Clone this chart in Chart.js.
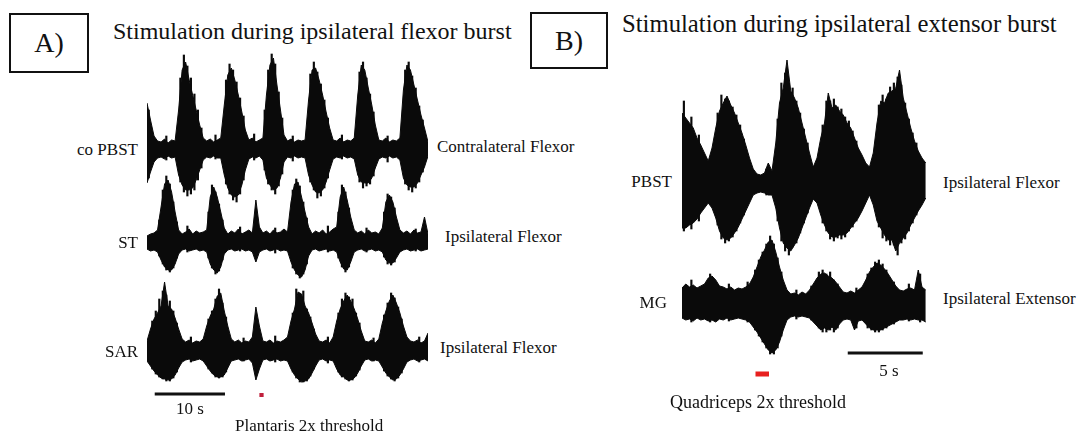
<!DOCTYPE html>
<html>
<head>
<meta charset="utf-8">
<title>EMG stimulation traces</title>
<script src="https://cdn.jsdelivr.net/npm/chart.js@4.4.0/dist/chart.umd.min.js"></script>
<style>
body { margin: 0; background: #fff; }
#fig { position: relative; width: 1087px; height: 434px; overflow: hidden; background: #fff;
       font-family: "Liberation Serif", "Times New Roman", serif; color: #111; }
#fig canvas { position: absolute; }
.t { position: absolute; white-space: nowrap; line-height: 1; font-size: 17px; }
.r { transform: translateX(-100%); }
.c { transform: translateX(-50%); }
.box { position: absolute; border: 2px solid #111; box-sizing: border-box; display: flex;
       align-items: center; justify-content: center; font-size: 28px; }
</style>
</head>
<body>
<div id="fig">
  <div class="box" style="left:9px;top:13px;width:80px;height:60px">A)</div>
  <div class="box" style="left:530px;top:12px;width:78px;height:57px">B)</div>
  <div class="t" style="left:113px;top:19px;font-size:24px">Stimulation during ipsilateral flexor burst</div>
  <div class="t" style="left:622px;top:12px;font-size:24.7px">Stimulation during ipsilateral extensor burst</div>

  <canvas id="coPbst" width="281" height="160" style="left:147px;top:50px"></canvas>
  <canvas id="st" width="281" height="120" style="left:147px;top:170px"></canvas>
  <canvas id="sar" width="281" height="140" style="left:147px;top:270px"></canvas>
  <canvas id="pbst" width="246" height="210" style="left:682px;top:55px"></canvas>
  <canvas id="mg" width="246" height="155" style="left:682px;top:230px"></canvas>

  <div class="t r" style="left:138px;top:141px">co PBST</div>
  <div class="t r" style="left:138px;top:234px">ST</div>
  <div class="t r" style="left:138px;top:343px">SAR</div>
  <div class="t" style="left:437px;top:138px">Contralateral Flexor</div>
  <div class="t" style="left:445px;top:228px">Ipsilateral Flexor</div>
  <div class="t" style="left:440px;top:339px">Ipsilateral Flexor</div>
  <div class="t c" style="left:190px;top:400px">10 s</div>
  <div class="t" style="left:235px;top:417px">Plantaris 2x threshold</div>

  <div class="t r" style="left:672px;top:173px">PBST</div>
  <div class="t r" style="left:667px;top:294px">MG</div>
  <div class="t" style="left:943px;top:174px">Ipsilateral Flexor</div>
  <div class="t" style="left:943px;top:290px">Ipsilateral Extensor</div>
  <div class="t c" style="left:889px;top:362px">5 s</div>
  <div class="t" style="left:670px;top:393px;font-size:18px">Quadriceps 2x threshold</div>
</div>

<script>
// A: EMG envelopes (upper / lower edge), sampled every 0.5 s over 40 s
var stepA = 0.5;
var coPbstUp = [47,30,14,9,8,11,7,10,9,40,80,88,70,55,40,25,12,9,11,8,10,12,45,75,82,70,55,38,20,10,
                12,8,10,12,55,85,92,65,40,15,9,11,8,10,9,10,50,80,82,70,55,38,22,10,9,12,8,10,9,12,
                55,85,80,62,45,25,10,9,12,8,10,9,12,60,85,80,65,50,35,22,8];
var coPbstLo = [-33,-22,-12,-8,-7,-9,-6,-8,-7,-25,-35,-40,-40,-38,-30,-20,-10,-7,-8,-6,-8,-8,-25,-38,-45,-47,-45,-35,-20,-9,
                -7,-8,-6,-10,-28,-35,-40,-38,-28,-12,-7,-8,-6,-8,-7,-8,-25,-35,-42,-43,-40,-32,-20,-9,-7,-8,-6,-8,-7,-9,
                -25,-32,-33,-33,-28,-18,-9,-7,-8,-6,-8,-7,-10,-28,-35,-37,-37,-33,-25,-17,-6];
var stUp = [6,8,9,12,35,58,62,50,30,12,8,10,13,8,11,9,10,12,45,55,45,30,14,8,11,9,13,8,10,12,
            9,42,15,9,11,8,12,9,10,13,10,40,58,60,45,30,15,8,11,9,12,8,10,13,15,45,55,42,25,12,
            9,11,8,12,9,10,8,14,40,47,40,25,12,9,11,8,12,9,10,25,8];
var stLo = [-7,-9,-8,-10,-18,-25,-28,-28,-22,-12,-8,-7,-9,-8,-7,-9,-8,-10,-22,-28,-31,-25,-12,-8,-7,-9,-8,-7,-9,-8,
            -10,-20,-10,-8,-7,-9,-8,-7,-9,-8,-9,-20,-28,-33,-35,-28,-14,-8,-7,-9,-8,-7,-9,-8,-10,-20,-27,-28,-20,-10,
            -8,-7,-9,-8,-7,-9,-8,-10,-18,-21,-21,-16,-10,-8,-7,-9,-8,-7,-9,-8,-7];
var sarUp = [10,22,32,38,45,69,45,42,33,22,12,9,11,8,10,9,12,25,35,42,55,58,40,25,12,9,11,8,10,9,
             14,44,25,10,9,11,8,10,9,11,14,30,42,59,57,45,38,28,17,10,9,11,8,14,30,42,50,56,50,42,
             32,20,10,9,11,8,12,28,40,50,56,48,38,25,14,10,9,11,8,10,18];
var sarLo = [-10,-15,-20,-24,-27,-28,-29,-28,-24,-17,-11,-9,-8,-10,-9,-8,-10,-15,-20,-24,-26,-26,-24,-17,-10,-9,-8,-10,-9,-8,
             -12,-29,-18,-9,-8,-10,-9,-8,-10,-9,-10,-18,-24,-28,-31,-30,-28,-22,-15,-9,-8,-10,-9,-10,-18,-24,-26,-29,-29,-27,
             -22,-15,-9,-8,-10,-9,-10,-16,-22,-26,-29,-28,-24,-18,-11,-9,-8,-10,-9,-8,-10];

// A: single spikes between envelope samples (time s, top, bottom)
var coPbstSpikeT  = [0.25,2.75,4.75,5.25,5.75,6.25,6.75,7.25,7.75,9.75,11.25,11.75,12.25,12.75,13.25,13.75,15.25,
                     16.75,17.25,17.75,18.25,18.75,19.25,20.75,23.25,23.75,24.25,24.75,25.25,25.75,27.75,
                     30.25,30.75,31.25,31.75,32.25,34.25,36.75,37.25,37.75,38.25,38.75,39.25];
var coPbstSpikeHi = [40,14,72,95,84,72,56,40,22,15,70,86,80,68,52,34,16,40,80,96,86,58,32,14,76,88,78,66,50,32,15,
                     78,88,72,56,38,14,80,88,74,62,44,30];
var coPbstSpikeLo = [-28,-10,-32,-42,-46,-44,-40,-30,-18,-9,-34,-44,-50,-52,-44,-30,-10,-20,-34,-40,-44,-36,-24,-11,
                     -32,-40,-48,-46,-38,-28,-9,-32,-38,-36,-34,-26,-12,-34,-40,-42,-38,-32,-22];
var stSpikeT  = [1.75,2.25,2.75,3.25,3.75,4.25,5.75,8.75,9.25,9.75,10.25,10.75,13.25,18.25,20.75,21.25,21.75,22.25,22.75,
                 25.75,27.25,27.75,28.25,28.75,31.25,33.75,34.25,34.75,35.25,38.25];
var stSpikeHi = [22,52,66,58,40,20,16,30,57,50,38,22,15,14,52,63,56,40,24,16,30,57,50,34,14,30,48,45,34,13];
var stSpikeLo = [-14,-22,-28,-30,-26,-16,-10,-16,-26,-32,-29,-18,-9,-11,-26,-32,-36,-32,-22,-10,-16,-25,-30,-25,-10,
                 -15,-22,-23,-20,-9];
var sarSpikeT  = [0.75,1.25,1.75,2.25,2.75,3.25,3.75,4.25,6.25,8.75,9.25,9.75,10.25,10.75,11.25,13.75,18.25,
                  20.75,21.25,21.75,22.25,22.75,23.25,23.75,25.75,27.25,27.75,28.25,28.75,29.25,29.75,30.25,32.25,
                  33.75,34.25,34.75,35.25,35.75,36.25,38.75];
var sarSpikeHi = [30,40,52,60,56,50,40,28,14,32,40,52,62,48,34,13,15,38,62,50,60,42,34,22,14,38,52,58,54,52,38,28,13,
                  36,48,58,53,44,32,14];
var sarSpikeLo = [-18,-23,-26,-28,-30,-30,-27,-21,-11,-18,-22,-26,-27,-26,-21,-10,-11,-21,-27,-31,-31,-30,-25,-18,-12,
                  -21,-26,-28,-30,-29,-25,-19,-10,-20,-25,-28,-30,-27,-22,-11];

// B: envelopes sampled every 0.25 s over ~16 s
var stepB = 0.25;
var pbstUp = [70,65,60,55,45,38,30,22,35,55,72,80,87,78,70,60,50,38,25,14,9,8,10,20,12,40,80,95,123,92,
              85,75,60,45,30,16,25,45,60,90,75,78,72,68,60,55,45,35,28,20,16,30,60,82,80,90,92,95,113,85,
              70,55,42,32,25,20];
var pbstLo = [-45,-45,-42,-40,-36,-30,-25,-20,-25,-35,-48,-55,-57,-55,-50,-44,-36,-28,-20,-12,-10,-9,-10,-12,-12,-25,-45,-60,-65,-68,
              -62,-55,-45,-35,-25,-16,-20,-32,-42,-50,-54,-54,-52,-52,-50,-45,-40,-35,-28,-20,-12,-22,-38,-45,-52,-57,-57,-68,-60,-55,
              -50,-42,-35,-28,-22,-15];
var mgUp = [14,18,15,17,14,16,18,24,26,22,16,15,13,15,12,14,13,15,18,25,35,45,52,60,62,50,35,22,12,8,
            9,7,10,8,12,18,24,28,29,26,24,20,15,10,9,11,9,12,15,22,30,35,39,37,33,28,22,16,12,11,
            13,14,12,32,15,12];
var mgLo = [-16,-18,-17,-19,-16,-18,-17,-19,-18,-20,-17,-18,-16,-18,-17,-16,-17,-18,-20,-25,-30,-36,-42,-48,-51,-48,-40,-28,-18,-15,
            -14,-15,-14,-15,-16,-20,-24,-28,-26,-28,-25,-28,-22,-18,-17,-18,-28,-19,-18,-22,-26,-28,-28,-28,-26,-24,-22,-20,-18,-18,
            -17,-18,-17,-18,-18,-20];

// B: single spikes
var pbstSpikeT  = [0.125,0.625,1.125,2.375,2.625,2.875,3.125,3.375,3.625,3.875,4.125,5.625,
                   6.375,6.625,6.875,7.125,7.375,7.625,7.875,8.125,8.375,
                   9.375,9.625,9.875,10.125,10.375,10.625,10.875,11.125,11.375,11.625,
                   13.125,13.375,13.625,13.875,14.125,14.375,14.625,14.875,15.125,15.375,15.625];
var pbstSpikeHi = [82,66,48,70,88,84,82,76,68,58,44,14,64,100,110,100,95,82,70,54,40,
                   58,82,82,84,76,74,66,62,52,42,78,88,84,96,100,106,98,80,64,50,40];
var pbstSpikeLo = [-48,-46,-38,-42,-56,-60,-58,-54,-48,-40,-32,-12,-38,-58,-68,-72,-64,-60,-50,-40,-30,
                   -40,-48,-56,-58,-55,-56,-54,-48,-44,-38,-44,-55,-58,-62,-62,-72,-60,-56,-48,-40,-32];
var mgSpikeT  = [0.625,1.875,3.125,4.375,4.875,5.125,5.375,5.625,5.875,6.125,6.375,6.625,7.625,8.625,
                 9.125,9.375,9.625,9.875,10.125,10.375,11.625,12.375,12.625,12.875,13.125,13.375,13.625,14.125,
                 15.125,15.875];
var mgSpikeHi = [22,28,18,20,32,42,50,58,66,58,44,30,12,16,30,32,28,30,22,18,14,28,34,40,42,38,32,20,18,28];
var mgSpikeLo = [-20,-20,-19,-20,-28,-34,-40,-46,-52,-52,-46,-34,-17,-18,-26,-30,-30,-28,-30,-26,-26,-26,-28,-30,
                 -30,-28,-26,-22,-19,-20];

// time scale bars and stimulus windows (seconds)
var scaleBarA = { from: 1.1, to: 11.1 };
var stimA = { from: 16.0, to: 16.6 };
var scaleBarB = { from: 11.05, to: 16.05 };
var stimB = { from: 4.9, to: 5.8 };

function points(step, values) {
    var out = [];
    for (var i = 0; i < values.length; i++) out.push({ x: i * step, y: values[i] });
    return out;
}

function spikes(t, hi, lo) {
    return t.map(function(x, i) { return { x: x, y: [lo[i], hi[i]] }; });
}

// horizontal bars under the trace, placed in time by the x scale
var markPlugin = {
    id: 'marks',
    afterDraw: function(chart, args, opts) {
        if (!opts.bars) return;
        var ctx = chart.ctx, xs = chart.scales.x;
        ctx.save();
        opts.bars.forEach(function(b) {
            var x0 = xs.getPixelForValue(b.from), x1 = xs.getPixelForValue(b.to);
            ctx.fillStyle = b.color;
            ctx.fillRect(x0, b.y - b.h / 2, x1 - x0, b.h);
        });
        ctx.restore();
    }
};

function trace(id, s) {
    var ink = '#0a0a0a';
    return new Chart(document.getElementById(id), {
        type: 'line',
        data: {
            datasets: [
                { data: points(s.step, s.up), fill: '+1', backgroundColor: ink, borderColor: ink,
                  borderWidth: 1, pointRadius: 0, tension: 0, clip: false },
                { data: points(s.step, s.lo), fill: false, borderColor: ink,
                  borderWidth: 1, pointRadius: 0, tension: 0, clip: false },
                { type: 'bar', data: spikes(s.spikeT, s.spikeHi, s.spikeLo), backgroundColor: ink,
                  barThickness: 1.5, borderWidth: 0 }
            ]
        },
        options: {
            responsive: false,
            animation: false,
            events: [],
            layout: { padding: { top: 0, left: 0, right: 0, bottom: s.padBottom || 0 } },
            plugins: {
                legend: { display: false },
                tooltip: { enabled: false },
                marks: { bars: s.bars || null }
            },
            scales: {
                x: { type: 'linear', display: false, min: 0, max: s.xMax, offset: false },
                y: { display: false, min: s.yMin, max: s.yMax }
            }
        },
        plugins: [markPlugin]
    });
}

trace('coPbst', { step: stepA, up: coPbstUp, lo: coPbstLo, spikeT: coPbstSpikeT, spikeHi: coPbstSpikeHi,
                  spikeLo: coPbstSpikeLo, xMax: 40, yMin: -60, yMax: 100 });
trace('st', { step: stepA, up: stUp, lo: stLo, spikeT: stSpikeT, spikeHi: stSpikeHi, spikeLo: stSpikeLo,
              xMax: 40, yMin: -48, yMax: 72 });
trace('sar', { step: stepA, up: sarUp, lo: sarLo, spikeT: sarSpikeT, spikeHi: sarSpikeHi, spikeLo: sarSpikeLo,
               xMax: 40, yMin: -39, yMax: 81, padBottom: 20, bars: [
    { from: scaleBarA.from, to: scaleBarA.to, y: 124, h: 3, color: '#111' },
    { from: stimA.from, to: stimA.to, y: 125, h: 4, color: '#c0203c' }
]});
trace('pbst', { step: stepB, up: pbstUp, lo: pbstLo, spikeT: pbstSpikeT, spikeHi: pbstSpikeHi, spikeLo: pbstSpikeLo,
                xMax: 16.4, yMin: -82, yMax: 128 });
trace('mg', { step: stepB, up: mgUp, lo: mgLo, spikeT: mgSpikeT, spikeHi: mgSpikeHi, spikeLo: mgSpikeLo,
              xMax: 16.4, yMin: -68, yMax: 72, padBottom: 15, bars: [
    { from: scaleBarB.from, to: scaleBarB.to, y: 123, h: 3, color: '#111' },
    { from: stimB.from, to: stimB.to, y: 144, h: 5, color: '#e8201f' }
]});
</script>
</body>
</html>
